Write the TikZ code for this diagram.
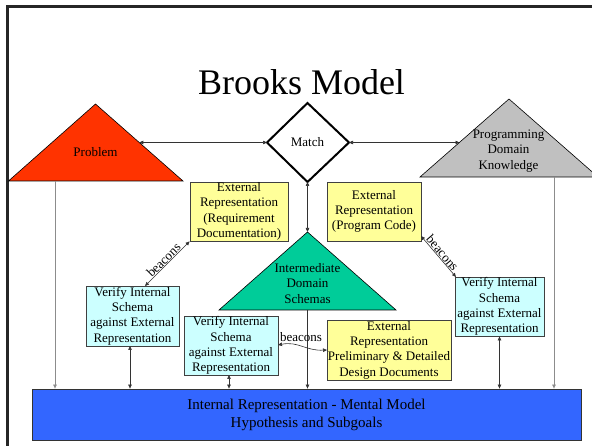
\documentclass[tikz,border=0pt]{standalone}
\usepackage{fontspec}
\setmainfont{Liberation Serif}
\usetikzlibrary{arrows.meta,calc}
\definecolor{probred}{HTML}{FF3300}
\definecolor{pdkgray}{HTML}{C0C0C0}
\definecolor{idsgreen}{HTML}{00CC99}
\definecolor{yfill}{HTML}{FFFF99}
\definecolor{cfill}{HTML}{CCFFFF}
\definecolor{bfill}{HTML}{3366FF}
\begin{document}
\begin{tikzpicture}[x=1pt,y=-1pt,
  tip/.style={-{Triangle[length=4pt,width=3.5pt]}},
  both/.style={{Triangle[length=4pt,width=3.5pt]}-{Triangle[length=4pt,width=3.5pt]}},
  conn/.style={line width=0.6pt, draw=black!80},
  gconn/.style={line width=0.7pt, draw=black!45},
  txt/.style={font=\fontsize{13}{15.3}\selectfont, align=center, inner sep=0pt},
  box/.style={txt, draw=black!75, line width=0.8pt},
  tri/.style={draw=black, line width=0.6pt},
  lbl/.style={font=\fontsize{13}{15}\selectfont, inner sep=0.5pt}]
\useasboundingbox (0,0) rectangle (592,446);
\fill[white] (0,0) rectangle (592,446);
% frame
\draw[line width=3pt, black!85] (7.5,446) -- (7.5,6.5) -- (592,6.5);
% title
\node[font=\fontsize{36}{40}\selectfont, anchor=base, inner sep=0pt] (title) at (301.5,95) {Brooks Model};
% coordinates
\coordinate (P1) at (95.5,104);
\coordinate (P2) at (8.5,181);
\coordinate (P3) at (183,181);
\coordinate (K1) at (509,99);
\coordinate (K2) at (420,177);
\coordinate (K3) at (598,177);
\coordinate (G1) at (307.5,232);
\coordinate (G2) at (219,310);
\coordinate (G3) at (396,310);
\coordinate (DT) at (307.5,103);
\coordinate (DR) at (349,142.5);
\coordinate (DB) at (307.5,182);
\coordinate (DL) at (267,142.5);
% triangles
\draw[tri, fill=probred] (P1) -- (P2) -- (P3) -- cycle;
\draw[tri, fill=pdkgray] (K1) -- (K2) -- (K3) -- cycle;
\draw[tri, fill=idsgreen] (G1) -- (G2) -- (G3) -- cycle;
\draw[line width=2pt, fill=white, line join=miter] (DT) -- (DR) -- (DB) -- (DL) -- cycle;
\node[txt] (probtxt) at (95.5,152) {Problem};
\node[txt] (pdktxt) at (508.5,151) {Programming\\Domain\\Knowledge};
\node[txt] (idstxt) at (307.5,283.5) {Intermediate\\Domain\\Schemas};
\node[txt] (match) at (307.5,142.5) {Match};
% boxes
\node[box, fill=yfill, minimum width=98pt, minimum height=59pt] (req) at (239,211.5) {External\\Representation\\(Requirement\\Documentation)};
\node[box, fill=yfill, minimum width=94pt, minimum height=59pt] (prog) at (374,211.5) {External\\Representation\\(Program Code)};
\node[box, fill=yfill, minimum width=124pt, minimum height=60pt] (prel) at (389,350) {External\\Representation\\Preliminary \& Detailed\\Design Documents};
\node[box, fill=cfill, minimum width=93pt, minimum height=60pt] (v1) at (132.5,316) {Verify Internal\\Schema\\against External\\Representation};
\node[box, fill=cfill, minimum width=94pt, minimum height=59pt] (v2) at (231,345.5) {Verify Internal\\Schema\\against External\\Representation};
\node[box, fill=cfill, minimum width=89pt, minimum height=59pt] (v3) at (499.5,306.5) {Verify Internal\\Schema\\against External\\Representation};
\node[draw=black!80, line width=0.8pt, fill=bfill, minimum width=549pt, minimum height=51pt, align=center, inner sep=0pt, font=\fontsize{15}{18}\selectfont] (main) at (306.5,414.5) {Internal Representation - Mental Model\\Hypothesis and Subgoals};
% connector end points
\coordinate (pedge) at ($(P1)!0.5!(P3)$);
\coordinate (kedge) at (459.5,142.5);
\coordinate (pbase) at (55,181);
\coordinate (kbase) at (554,177);
\coordinate (gbase) at (307.5,310);
\coordinate (v1b) at (130,346);
\coordinate (v2b) at (229,375);
\coordinate (v1t) at (145,286);
\coordinate (ptr) at (421,236);
\coordinate (v3t) at (456,277);
\coordinate (bm1) at (278,345);
\coordinate (bm2) at (327,350);
% connectors
\draw[conn, both] (pedge) -- (DL);
\draw[conn, both] (DR) -- (kedge);
\draw[conn, both] (DB) -- (G1);
\draw[gconn, tip] (pbase) -- (pbase |- main.north);
\draw[gconn, tip] (kbase) -- (kbase |- main.north);
\draw[conn, tip] (gbase) -- (gbase |- main.north);
\draw[conn, both] (v1b) -- (v1b |- main.north);
\draw[conn, both] (v2b) -- (v2b |- main.north);
\draw[conn, both] (v3.south) -- (v3.south |- main.north);
\draw[conn, both] (req.south west) -- node[lbl, midway, sloped, above] (bcn1) {beacons} (v1t);
\draw[conn, both] (ptr) -- node[lbl, midway, sloped, above] (bcn2) {beacons} (v3t);
\draw[conn, both] (bm1) .. controls (298,341) and (306,351) .. (bm2);
\node[lbl] (bcn3) at (301,337) {beacons};
\end{tikzpicture}
\end{document}
